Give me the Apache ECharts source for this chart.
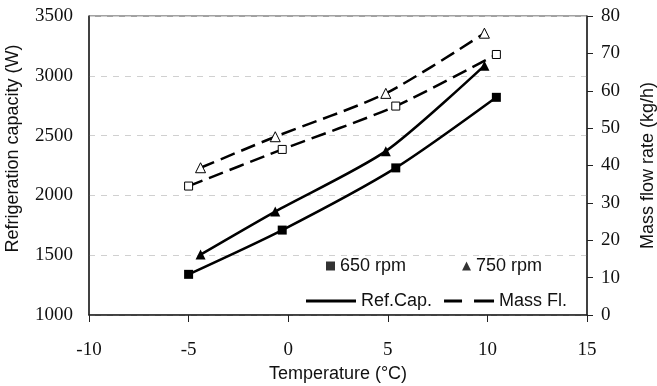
<!DOCTYPE html>
<html>
<head>
<meta charset="utf-8">
<script src="https://cdn.jsdelivr.net/npm/echarts@6/dist/echarts.min.js"></script>
<style>
  html, body { margin: 0; padding: 0; background: #fff; }
  #chart { width: 657px; height: 386px; }
</style>
</head>
<body>
<div id="chart"></div>
<script>
// values
const temp650 = [-5.0, -0.3, 5.4, 10.45]
const temp750 = [-4.4, -0.65, 4.9, 9.85]
const cap650 = [1340, 1710, 2230, 2820]
const cap750 = [1505, 1865, 2370, 3085]
const mass650 = [34.5, 44.3, 55.9, 69.7]
const mass750 = [39.4, 47.7, 59.3, 75.4]
const legendRow1 = ['650 rpm', '750 rpm']
const legendRow2 = ['Ref.Cap.', 'Mass Fl.']

const pairs = (xs, ys) => xs.map((x, i) => [x, ys[i]])

const serif = '"Liberation Serif", "Times New Roman", serif'
const sans = '"Liberation Sans", Arial, sans-serif'
const dash = [15, 7]
const solidIcon = 'path://M0,0H50V3H0Z'
const dashIcon = 'path://M0,0H18V3H0Z M30,0H50V3H30Z'

const chart = echarts.init(document.getElementById('chart'))

chart.setOption({
  animation: false,
  grid: {
    left: 89, right: 70, top: 16, bottom: 71, outerBoundsMode: 'none', containLabel: false,
    show: true, borderColor: '#444', borderWidth: 1,
  },
  legend: [
    {
      data: legendRow1, left: 321, top: 252, itemWidth: 9, itemHeight: 9, itemGap: 56,
      textStyle: { fontFamily: sans, fontSize: 18, color: '#111' }, selectedMode: false,
    },
    {
      data: [{ name: legendRow2[0], icon: solidIcon }, { name: legendRow2[1], icon: dashIcon }],
      left: 301, top: 287, itemWidth: 50, itemHeight: 3, itemGap: 12,
      textStyle: { fontFamily: sans, fontSize: 18, color: '#111' }, selectedMode: false,
    },
  ],
  xAxis: {
    type: 'value', min: -10, max: 15, interval: 5,
    name: 'Temperature (°C)', nameLocation: 'middle', nameGap: 46,
    nameTextStyle: { fontFamily: sans, fontSize: 18, color: '#111' },
    axisLine: { onZero: false, lineStyle: { color: '#222', width: 1.5 } },
    axisTick: { show: true, length: 7, lineStyle: { color: '#222' } },
    axisLabel: { fontFamily: serif, fontSize: 19, color: '#111', margin: 26 },
    splitLine: { show: false },
  },
  yAxis: [
    {
      type: 'value', min: 1000, max: 3500, interval: 500,
      name: 'Refrigeration capacity (W)', nameLocation: 'middle', nameGap: 67,
      nameTextStyle: { fontFamily: sans, fontSize: 18, color: '#111', padding: [0, 0, 0, 34] },
      axisLine: { show: true, onZero: false, lineStyle: { color: '#222', width: 1.5 } },
      axisTick: { show: false },
      axisLabel: { fontFamily: serif, fontSize: 19, color: '#111', margin: 16, formatter: v => String(v) },
      splitLine: { show: true, lineStyle: { color: '#d0d0d0', type: [6, 6] } },
    },
    {
      type: 'value', min: 0, max: 80, interval: 10, position: 'right',
      name: 'Mass flow rate (kg/h)', nameLocation: 'middle', nameGap: 52,
      nameTextStyle: { fontFamily: sans, fontSize: 18, color: '#111' },
      axisLine: { show: true, onZero: false, lineStyle: { color: '#222', width: 1.5 } },
      axisTick: { show: true, length: 6, lineStyle: { color: '#222' } },
      axisLabel: { fontFamily: serif, fontSize: 19, color: '#111', margin: 14 },
      splitLine: { show: false },
    },
  ],
  series: [
    // legend-only entries
    { name: '650 rpm', type: 'scatter', data: [], symbol: 'rect', itemStyle: { color: '#000' } },
    { name: '750 rpm', type: 'scatter', data: [], symbol: 'triangle', itemStyle: { color: '#000' } },
    { name: 'Ref.Cap.', type: 'line', data: [], symbol: 'none', lineStyle: { color: '#000', width: 2.5 }, itemStyle: { color: '#000' } },
    { name: 'Mass Fl.', type: 'line', data: [], symbol: 'none', lineStyle: { color: '#000', width: 2.5, type: dash }, itemStyle: { color: '#000' } },
    // capacity
    {
      name: 'cap650', type: 'line', yAxisIndex: 0, smooth: 0.25, data: pairs(temp650, cap650),
      symbol: 'rect', symbolSize: 9, itemStyle: { color: '#000' }, lineStyle: { color: '#000', width: 2.5 },
    },
    {
      name: 'cap750', type: 'line', yAxisIndex: 0, smooth: 0.25, data: pairs(temp750, cap750),
      symbol: 'triangle', symbolSize: 10, itemStyle: { color: '#000' }, lineStyle: { color: '#000', width: 2.5 },
    },
    // mass flow
    {
      name: 'mass650', type: 'line', yAxisIndex: 1, smooth: 0.25, data: pairs(temp650, mass650),
      symbol: 'rect', symbolSize: 8, itemStyle: { color: '#fff', borderColor: '#000', borderWidth: 1 },
      lineStyle: { color: '#000', width: 2.5, type: dash },
    },
    {
      name: 'mass750', type: 'line', yAxisIndex: 1, smooth: 0.25, data: pairs(temp750, mass750),
      symbol: 'triangle', symbolSize: 10, itemStyle: { color: '#fff', borderColor: '#000', borderWidth: 1 },
      lineStyle: { color: '#000', width: 2.5, type: dash },
    },
  ],
})
</script>
</body>
</html>
